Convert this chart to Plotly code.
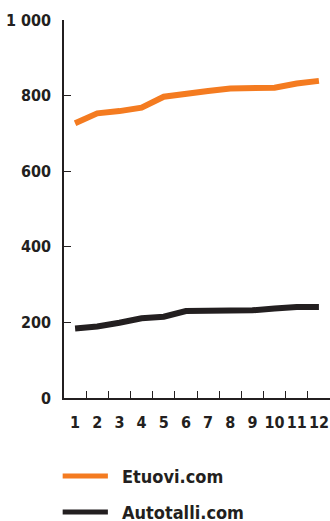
import plotly.graph_objects as go

months = [str(i) for i in range(1, 13)]
etuovi = [727, 753, 759, 768, 797, 806, 812, 819, 819, 821, 832, 839]
autotalli = [184, 189, 199, 211, 215, 230, 231, 232, 232, 237, 241, 241]
series_names = ["Etuovi.com", "Autotalli.com"]
series_colors = ["#F47B20", "#231F20"]
y_ticks = [0, 200, 400, 600, 800, 1000]
y_tick_labels = ["0", "200", "400", "600", "800", "1 000"]

FONT = "DejaVu Sans Condensed, Roboto, sans-serif"
TXT = "#231F20"

W, H = 330, 521
ML, MT, MB = 64, 20, 123
plot_h = H - MT - MB

fig = go.Figure()
for name, vals, col in zip(series_names, [etuovi, autotalli], series_colors):
    fig.add_trace(go.Scatter(x=months, y=vals, name=name, mode="lines",
                             line=dict(color=col, width=6), showlegend=False,
                             hoverinfo="x+y+name"))

# custom legend
for i, (name, col) in enumerate(zip(series_names, series_colors)):
    yp = -(78 + i * 36) / plot_h
    fig.add_shape(type="line", xref="paper", yref="paper",
                  x0=-0.005, x1=0.165, y0=yp, y1=yp,
                  line=dict(color=col, width=5))
    fig.add_annotation(text=name, xref="paper", yref="paper", x=0.21, y=yp,
                       xanchor="left", yanchor="middle", showarrow=False,
                       font=dict(family=FONT, size=18, color=TXT, weight="bold"))

yf = dict(family=FONT, size=16, color=TXT, weight="bold")
xf = dict(family=FONT, size=16, color=TXT)
fig.update_layout(
    width=W, height=H,
    margin=dict(l=ML, r=0, t=MT, b=MB),
    paper_bgcolor="white", plot_bgcolor="white",
    font=yf,
    xaxis=dict(type="category", range=[-0.5, 11.5], tickson="boundaries",
               ticks="inside", ticklen=7,
               tickwidth=1.2, tickcolor=TXT, showline=True, linecolor=TXT, linewidth=1.5,
               showgrid=False, zeroline=False, ticklabelstandoff=9, tickangle=0,
               automargin=False, tickfont=xf),
    yaxis=dict(range=[0, 1000], tickvals=y_ticks, ticktext=y_tick_labels,
               ticks="inside", ticklen=7, tickwidth=1.2, tickcolor=TXT,
               showline=True, linecolor=TXT, linewidth=1.5, showgrid=False,
               zeroline=False, ticklabelstandoff=8, automargin=False, tickfont=yf),
)

fig.write_html(
    "out.html",
    config={"displayModeBar": False},
    post_script="document.body.style.margin='0';document.body.style.overflow='hidden';",
)
